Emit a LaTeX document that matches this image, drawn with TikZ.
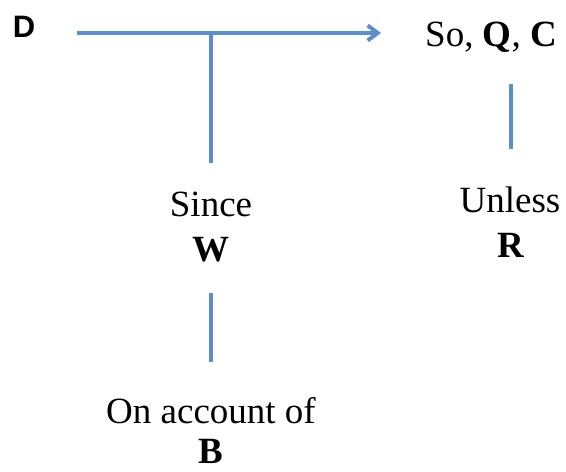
\documentclass[tikz,border=0pt]{standalone}
\usepackage{fontspec}
\setmainfont{Liberation Serif}
\newfontfamily\labelsans{Liberation Sans}
\usetikzlibrary{arrows.meta}

\definecolor{linkblue}{RGB}{92,142,202}

\tikzset{
    link/.style={draw=linkblue, line width=4pt},
    part/.style={inner sep=0pt, anchor=base, font=\fontsize{37}{45}\selectfont},
}

\begin{document}
\begin{tikzpicture}[x=1pt, y=1pt]
    \useasboundingbox (0,0) rectangle (566,472);

    % Data and claim on the top row
    \node[inner sep=0pt, anchor=base, font=\labelsans\bfseries\fontsize{31}{36}\selectfont] (data) at (24,434) {D};
    \node[part] (claim) at (491,425) {So, \textbf{Q}, \textbf{C}};
    \coordinate (junc) at (211,439);

    % Warrant and backing under the arrow
    \node[part] (since) at (211,255) {Since};
    \node[part] (warrant) at (211,210) {\textbf{W}};
    \node[part] (onaccount) at (211,48) {On account of};
    \node[part] (backing) at (211,9) {\textbf{B}};

    % Rebuttal under the claim
    \node[part] (unless) at (510,259) {Unless};
    \node[part] (rebuttal) at (511,214) {\textbf{R}};

    % Connectors
    \draw[link, -{Straight Barb[length=10pt, width=15pt]}, shorten <=42pt, shorten >=44pt]
        (data.east |- junc) -- (claim.west |- junc);
    \draw[link, shorten >=29pt] (junc) -- (since.north -| junc);
    \draw[link, shorten <=30pt, shorten >=36pt] (warrant.south) -- (onaccount.north -| warrant.south);
    \draw[link, shorten <=31pt, shorten >=38pt] (claim.south -| rebuttal.north) -- (rebuttal.north |- unless.north);
\end{tikzpicture}
\end{document}
